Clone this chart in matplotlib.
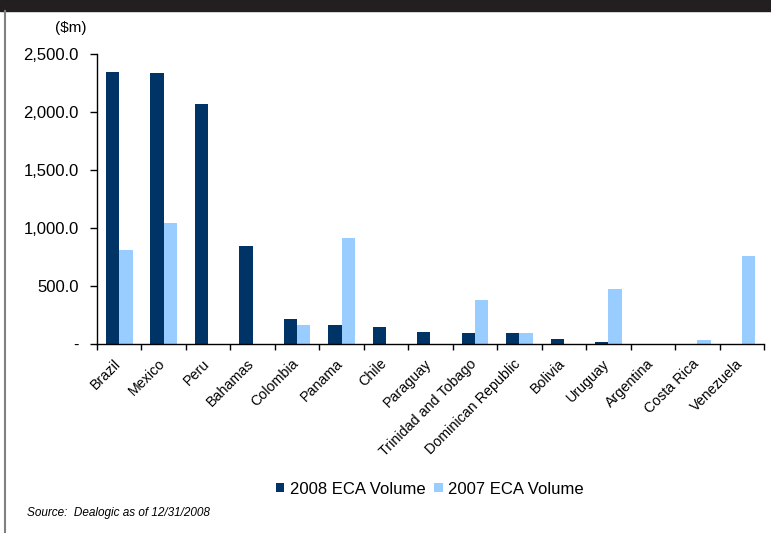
import numpy as np
import matplotlib
matplotlib.use("Agg")
import matplotlib.pyplot as plt
from matplotlib.patches import Rectangle
from matplotlib.lines import Line2D
from matplotlib.transforms import ScaledTranslation

countries = ["Brazil", "Mexico", "Peru", "Bahamas", "Colombia", "Panama", "Chile",
             "Paraguay", "Trinidad and Tobago", "Dominican Republic", "Bolivia",
             "Uruguay", "Argentina", "Costa Rica", "Venezuela"]
vol_2008 = [2345, 2336, 2069, 845, 216, 164, 147, 103, 95, 95, 43, 17, 0, 0, 0]
vol_2007 = [810, 1043, 0, 0, 164, 914, 0, 0, 379, 95, 0, 474, 0, 34, 759]
y_ticks = [0, 500, 1000, 1500, 2000, 2500]
y_labels = ["-", "500.0", "1,000.0", "1,500.0", "2,000.0", "2,500.0"]

DARK = "#003366"
LIGHT = "#99CCFF"

plt.rcParams["font.family"] = ["Liberation Sans", "DejaVu Sans"]

fig = plt.figure(figsize=(7.71, 5.33), dpi=100)
W, H = 771, 533

# black band on top and grey frame line on the left
fig.patches.append(Rectangle((0, 1 - 11 / H), 1, 11 / H, transform=fig.transFigure,
                             color="#231f20", zorder=0))
fig.lines.append(Line2D([4.5 / W, 4.5 / W], [0, 1 - 11 / H], transform=fig.transFigure,
                        color="#808080", lw=1.5))

ax = fig.add_axes([97 / W, 1 - 344 / H, (764 - 97) / W, (344 - 54) / H])

x = np.arange(len(countries))
w = 0.3
ax.bar(x - w / 2, vol_2008, width=w, color=DARK, label="2008 ECA Volume")
ax.bar(x + w / 2, vol_2007, width=w, color=LIGHT, label="2007 ECA Volume")

ax.set_xlim(-0.5, len(countries) - 0.5)
ax.set_ylim(0, 2500)
ax.set_yticks(y_ticks)
ax.set_yticklabels(y_labels, fontsize=12)
ax.tick_params(axis="y", length=5, width=1, pad=8)

ax.set_xticks(x)
ax.set_xticklabels(countries, rotation=45, ha="right", rotation_mode="anchor", fontsize=10.3)
ax.tick_params(axis="x", which="major", length=0, pad=9)
shift = ScaledTranslation(-6 / 100, 0, fig.dpi_scale_trans)
for t in ax.get_xticklabels():
    t.set_transform(t.get_transform() + shift)
ax.set_xticks(np.arange(-0.5, len(countries)), minor=True)
ax.tick_params(axis="x", which="minor", length=4, width=1)

for side in ["top", "right"]:
    ax.spines[side].set_visible(False)
for side in ["left", "bottom"]:
    ax.spines[side].set_linewidth(1)
    ax.spines[side].set_color("black")

fig.text(71 / W, 1 - 28 / H, "($m)", fontsize=11, ha="center", va="center")

fig.legend(loc="center", bbox_to_anchor=(430 / W, 1 - 489 / H), ncol=2, frameon=False,
           fontsize=12, handlelength=0.5, handleheight=0.5, handletextpad=0.35,
           columnspacing=0.5)

fig.text(27 / W, 1 - 513 / H, "Source:  Dealogic as of 12/31/2008", fontsize=8.5,
         style="italic", ha="left", va="center",
         family=["Liberation Sans Narrow", "Liberation Sans", "DejaVu Sans"])

fig.savefig("out.png", dpi=100)
